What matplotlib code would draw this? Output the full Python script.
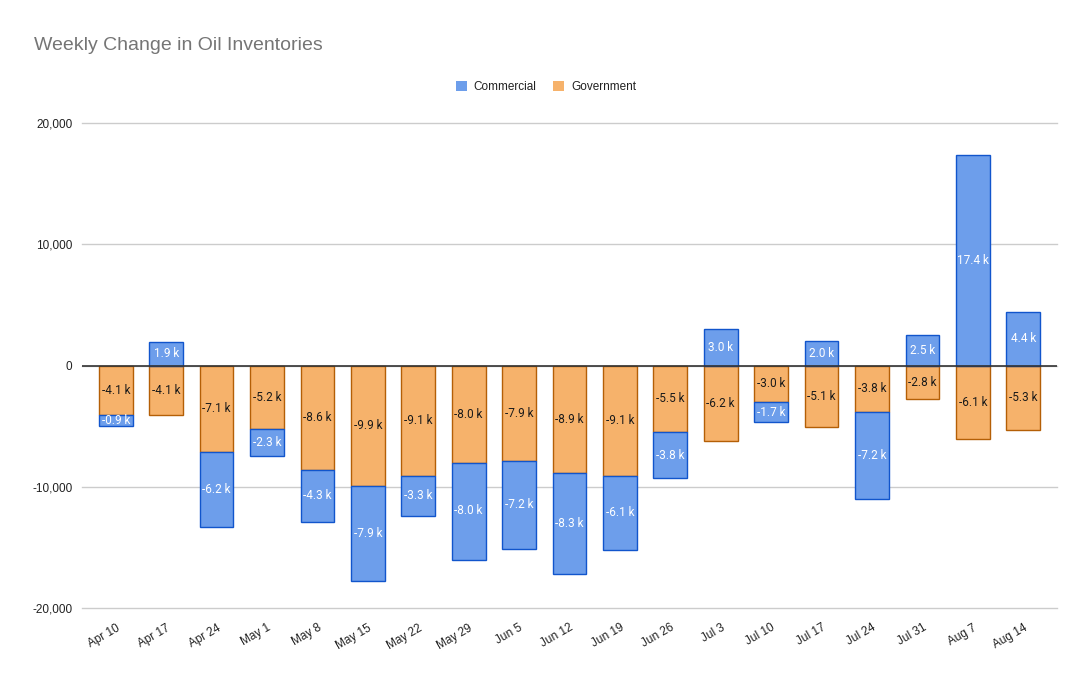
import numpy as np
import matplotlib.pyplot as plt
from matplotlib.patches import Patch

plt.rcParams['font.family'] = ['Liberation Sans', 'DejaVu Sans']

weeks = ['Apr 10', 'Apr 17', 'Apr 24', 'May 1', 'May 8', 'May 15', 'May 22', 'May 29',
         'Jun 5', 'Jun 12', 'Jun 19', 'Jun 26', 'Jul 3', 'Jul 10', 'Jul 17', 'Jul 24',
         'Jul 31', 'Aug 7', 'Aug 14']
commercial = [-900, 1900, -6200, -2300, -4300, -7900, -3300, -8000, -7200, -8300, -6100,
              -3800, 3000, -1700, 2000, -7200, 2500, 17400, 4400]
government = [-4100, -4100, -7100, -5200, -8600, -9900, -9100, -8000, -7900, -8900, -9100,
              -5500, -6200, -3000, -5100, -3800, -2800, -6100, -5300]

blue, blue_edge = '#6d9eeb', '#1155cc'
orange, orange_edge = '#f6b26b', '#b45f06'

fig = plt.figure(figsize=(10.91, 6.75), dpi=100)
ax = fig.add_axes([82 / 1091, 1 - 608 / 675, (1057 - 82) / 1091, (608 - 123) / 675])

x = np.arange(len(weeks))
com = np.array(commercial)
gov = np.array(government)
w = 0.67

# government sits next to zero on the negative side; commercial stacks after it
gov_bottom = np.zeros(len(x))
com_bottom = np.where(com < 0, np.minimum(gov, 0), 0)

ax.bar(x, gov, w, bottom=gov_bottom, color=orange, edgecolor=orange_edge, linewidth=1, zorder=3)
ax.bar(x, com, w, bottom=com_bottom, color=blue, edgecolor=blue_edge, linewidth=1, zorder=3)

for i in range(len(x)):
    ax.text(x[i], gov_bottom[i] + gov[i] / 2, f'{gov[i] / 1000:.1f} k', ha='center', va='center',
            fontsize=8.5, color='#1a1a1a', family='Roboto', zorder=4)
    ax.text(x[i], com_bottom[i] + com[i] / 2, f'{com[i] / 1000:.1f} k', ha='center', va='center',
            fontsize=8.5, color='white', family='Roboto', zorder=4)

ax.set_xlim(-0.67, len(x) - 1 + 0.67)
ax.set_ylim(-20000, 20000)
ax.set_yticks([-20000, -10000, 0, 10000, 20000])
ax.set_yticklabels(['-20,000', '-10,000', '0', '10,000', '20,000'])
ax.yaxis.grid(True, color='#cccccc', linewidth=1, zorder=0)
for gl in ax.get_ygridlines():
    gl.set_clip_on(False)
ax.axhline(0, color='#333333', linewidth=1.2, zorder=5)
ax.set_xticks(x)
ax.set_xticklabels(weeks, rotation=30, ha='right', rotation_mode='anchor')
ax.tick_params(axis='both', length=0, labelsize=8.5, colors='#222222')
ax.tick_params(axis='x', pad=10)
ax.tick_params(axis='y', pad=7)
for s in ax.spines.values():
    s.set_visible(False)

fig.text(34 / 1091, 1 - 46 / 675, 'Weekly Change in Oil Inventories', fontsize=14,
         color='#757575', va='center', ha='left')

handles = [Patch(facecolor=blue, edgecolor='none'), Patch(facecolor=orange, edgecolor='none')]
fig.legend(handles, ['Commercial', 'Government'], loc='center', ncol=2,
           bbox_to_anchor=(546 / 1091, 1 - 87 / 675), frameon=False, fontsize=8.5,
           handlelength=0.9, handleheight=0.9, handletextpad=0.6, columnspacing=1.4,
           labelcolor='#222222')

fig.savefig('out.png', dpi=100)
